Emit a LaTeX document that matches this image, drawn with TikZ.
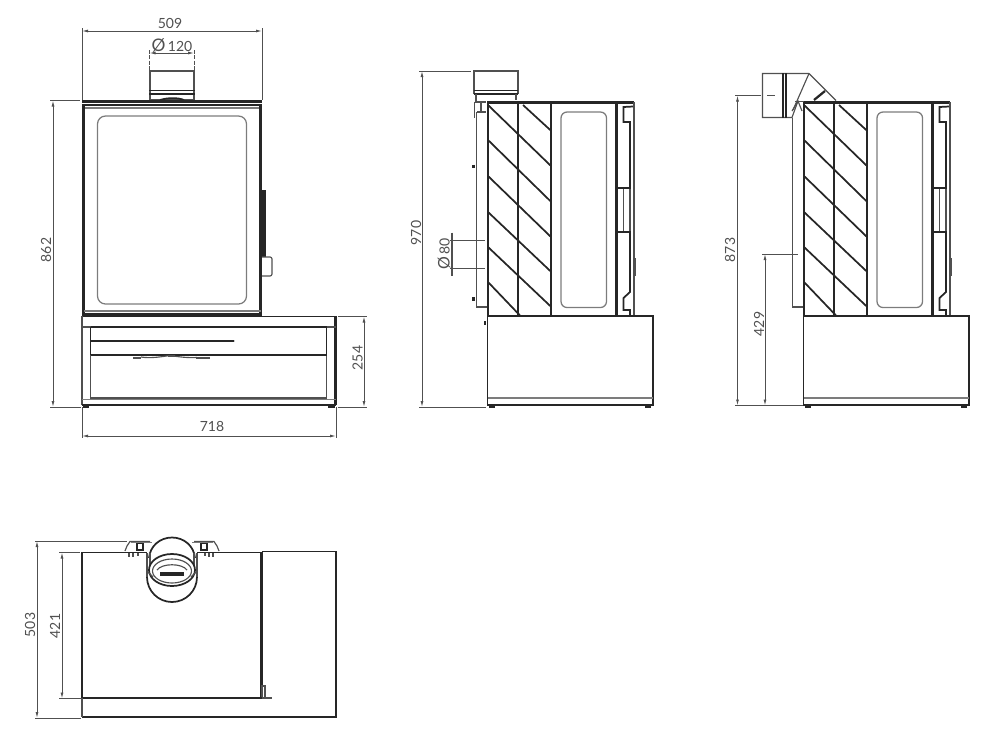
\documentclass[tikz,border=0pt]{standalone}
\usepackage{fontspec}
\setmainfont{Lato}
\usetikzlibrary{arrows.meta}
\definecolor{ink}{HTML}{262626}
\definecolor{soft}{HTML}{505050}
\definecolor{pale}{HTML}{7C7C7C}
\tikzset{
  thk/.style={draw=ink,line width=1.9pt},
  med/.style={draw=ink,line width=1.3pt},
  thn/.style={draw=soft,line width=0.85pt},
  hair/.style={draw=pale,line width=0.8pt},
  ext/.style={draw=soft,line width=0.6pt},
  dimline/.style={draw=soft,line width=0.65pt,{Latex[length=4.5pt,width=2.2pt]}-{Latex[length=4.5pt,width=2.2pt]}},
  lab/.style={text=soft,font=\fontsize{10.5pt}{12pt}\selectfont,inner sep=0pt},
  sidebody/.pic={
    % top plate and walls
    \draw[thk] (487,102.5) -- (634,102.5);
    \draw[thk] (488,101) -- (488,316);
    \draw[med] (518,104) -- (518,316);
    \draw[thk] (551,104) -- (551,316);
    \draw[thk] (616.5,104) -- (616.5,316);
    \draw[thn] (634,102) -- (634,316);
    % hatching
    \foreach \ya/\yb in {105/166,140/201.7,176/237,212/271.7,247/306.7}
      \draw[med] (488,\ya) -- (551,\yb);
    \draw[med] (488,282) -- (520,315.5);
    \draw[med] (523,105) -- (551,130.7);
    % window
    \draw[hair,rounded corners=4.5pt,line width=0.95pt] (561,307.5) rectangle (606.5,112);
    % rail
    \draw[med] (633,106.5) -- (623.5,107) -- (623.5,122) -- (630,122) -- (630,188) -- (618,188);
    \draw[thn] (623.5,189) -- (623.5,231);
    \draw[thn] (630,189) -- (630,231);
    \draw[med] (618,232) -- (630,232) -- (630,292) -- (623.5,298) -- (623.5,310) -- (630,310) -- (630,316);
    \draw[thn] (635,258) -- (635,276);
    % base
    \draw[med] (487.5,316) rectangle (653,405);
    \draw[hair,line width=1pt] (488,398) -- (653,398);
    \draw[thk] (487.5,405) -- (653,405);
    \draw[line width=1.6pt,draw=ink] (489,407) -- (495,407) (645,407) -- (651,407);
  }
}
\begin{document}
\begin{tikzpicture}[x=0.75pt,y=-0.75pt]
\useasboundingbox (0,0) rectangle (1000,747);

% ===== FRONT VIEW =====
\draw[thn] (150,71) rectangle (194,100);
\draw[med] (149,90.5) -- (195,90.5) (149,94) -- (195,94);
\draw[med] (160,100) .. controls (168,97.5) and (178,97.5) .. (184,100);
\draw[thk] (82,101.5) -- (262,101.5);
\draw[thk] (82,105) -- (262,105);
\draw[hair] (84,108) -- (260,108);
\draw[thk] (83.5,106) -- (83.5,316);
\draw[thk] (260.5,106) -- (260.5,316);
\draw[hair,rounded corners=6pt,line width=0.95pt] (97.5,304) rectangle (246.5,116);
\draw[line width=3pt,draw=ink] (263.5,190) -- (263.5,257);
\draw[thn,rounded corners=1.5pt] (262,257) -- (272,257) -- (272,276) -- (262,276);
\draw[hair,line width=1pt] (84,311) -- (261,311);
\draw[line width=3pt,draw=ink] (82,315) -- (262,315);
\draw[med] (262,316.5) -- (336,316.5);
\draw[thn] (82,316) -- (82,405);
\draw[thk] (335.5,316) -- (335.5,405);
\draw[thn] (82,327) -- (336,327);
\draw[med] (90.5,327) -- (327,327);
\draw[med] (90.5,327) -- (90.5,355);
\draw[med] (326.5,327) -- (326.5,355);
\draw[thn] (90.5,355) -- (90.5,398);
\draw[thn] (326.5,355) -- (326.5,398);
\draw[med] (90.5,355) -- (327,355);
\draw[line width=1.6pt,draw=ink,line cap=round] (91,341) -- (233.5,341);
\draw[thn] (90,398) -- (327,398);
\draw[hair] (82,399.5) -- (336,399.5);
\draw[thk] (82,405) -- (336,405);
\draw[line width=1.6pt,draw=ink] (83,406.5) -- (89,406.5) (328,406.5) -- (335,406.5);
% bracket under the drawer
\draw[line width=1.5pt,draw=soft] (133,357.5) -- (141,357.5) (168,356) -- (175,356) (196,357.5) -- (210,357.5);
\draw[thn] (141,357) .. controls (150,358.5) and (160,357) .. (170,355.5) .. controls (180,357) and (188,358) .. (197,357.5);

% front dimensions
\draw[ext] (82,28) -- (82,100);
\draw[ext] (262,28) -- (262,100);
\draw[dimline] (82,31) -- (262,31);
\node[lab] (t509) at (170,23) {509};
\draw[ext,dash pattern=on 3pt off 1pt] (149.5,50) -- (149.5,71);
\draw[ext,dash pattern=on 3pt off 1pt] (194,50) -- (194,71);
\draw[dimline] (149.5,53) -- (194,53);
\node[lab] (t120) at (172,45) {{\fontsize{13pt}{13pt}\selectfont Ø}\,120};
\draw[ext] (50,100.5) -- (80,100.5);
\draw[ext] (50,407) -- (81,407);
\draw[dimline] (53,100.5) -- (53,407);
\node[lab,rotate=90] (t862) at (46,250) {862};
\draw[ext] (338,316.5) -- (367,316.5);
\draw[ext] (338,407) -- (367,407);
\draw[dimline] (364,316.5) -- (364,407);
\node[lab,rotate=90] (t254) at (357.5,358) {254};
\draw[ext] (82,407) -- (82,438);
\draw[ext] (336,407) -- (336,438);
\draw[dimline] (82,436) -- (336,436);
\node[lab] (t718) at (212,426) {718};

% ===== SIDE VIEW 1 =====
\pic at (0,0) {sidebody};
\draw[thn] (474,94) -- (474,71) -- (518,71) -- (518,94);
\draw[med] (473.5,90.5) -- (518,90.5) (473.5,94) -- (518,94);
\draw[thn] (476,94) -- (476,101) (516,94) -- (516,100);
\draw[thn] (474.5,102) -- (486,102) (474.5,102) -- (474.5,118);
\draw[thn] (477,112) -- (486,112) (476.5,112) -- (476.5,307) -- (487,307);
\draw[thn] (481,102) -- (481,112);
\draw[line width=2.4pt,draw=ink] (473.5,164.5) -- (473.5,168);
\draw[line width=2.4pt,draw=ink] (473.5,297) -- (473.5,300.5);
\draw[line width=1.4pt,draw=ink] (485,321) -- (485,325);
\draw[ext] (419,71) -- (471,71);
\draw[ext] (419,407) -- (486,407);
\draw[dimline] (422,71) -- (422,407);
\node[lab,rotate=90] (t970) at (416,233) {970};
\draw[ext] (450,240) -- (485,240);
\draw[ext] (450,268) -- (485,268);
\draw[line width=0.9pt,draw=soft] (452,232.5) -- (452,275.5);
\node[lab,rotate=90] (t80) at (444,254) {{\fontsize{12pt}{12pt}\selectfont Ø}\,80};

% ===== SIDE VIEW 2 =====
\pic at (316,0) {sidebody};
\draw[thn] (792.5,118) -- (792.5,307) -- (803,307);
% elbow
\draw[thn] (809,73.5) -- (762.5,73.5) -- (762.5,117.5) -- (792,117.5) -- (798,101);
\draw[line width=1.5pt,draw=ink] (782.5,73) -- (782.5,118) (785.8,73) -- (785.8,118);
\draw[thn] (809,73.5) -- (836,100.5);
\draw[thn] (809,73.5) -- (793,110);
\draw[line width=1.7pt,draw=ink] (814,100) -- (825,91);
\draw[thn] (792,111) -- (798,101) -- (802,111);
\draw[thn] (795,101.5) -- (804,101.5);
\draw[ext] (735,95.5) -- (761,95.5);
\draw[ext,dash pattern=on 6pt off 2pt on 1.5pt off 2pt] (767,95.5) -- (777,95.5);
\draw[ext] (735,405.5) -- (803,405.5);
\draw[dimline] (737.5,95.5) -- (737.5,405.5);
\node[lab,rotate=90] (t873) at (730,250) {873};
\draw[ext] (762,254) -- (798,254);
\draw[dimline] (765,254) -- (765,405.5);
\node[lab,rotate=90] (t429) at (759,324) {429};

% ===== TOP VIEW =====
\draw[med] (82,698) -- (82,552.5) -- (147,552.5);
\draw[med] (197,552.5) -- (261.5,552.5);
\draw[thk] (261.5,552) -- (261.5,698);
\draw[thk] (82,698) -- (262,698);
\draw[thn] (262,698) -- (272,698);
\draw[med] (262,551.5) -- (336,551.5) -- (336,717) -- (82,717);
\draw[thn] (82,698) -- (82,717);
\draw[thn] (262,697) -- (262,686) -- (265,686) -- (265,697);
% plate above the wall
\draw[thn] (125,551) -- (127,546) -- (130,541.5) -- (150,541.5);
\draw[thn] (194,541.5) -- (214,541.5) -- (217,546) -- (219,551);
\draw[hair,line width=1.2pt] (131,542.5) -- (152,542.5) (192,542.5) -- (213,542.5);
\draw[med] (137,543.5) rectangle (143,550);
\draw[med] (201,543.5) rectangle (207,550);
\draw[thn] (129,553) -- (129,557) (133,553) -- (133,557) (138,553) -- (138,556);
\draw[thn] (205,553) -- (205,556) (209,553) -- (209,557) (213,553) -- (213,557);
% flue
\draw[med,fill=white] (149,558) .. controls (150,546) and (160,537.5) .. (172,537.5) .. controls (184,537.5) and (194,546) .. (195,558);
\draw[thn] (147,553) -- (147,577) (150,553) -- (150,570);
\draw[thn] (197,553) -- (197,577) (194,553) -- (194,570);
\draw[med] (147,577) arc[start angle=180,end angle=0,x radius=25,y radius=25];
\draw[med,fill=white] (172,570) ellipse[x radius=23,y radius=16];
\draw[thn] (172,571) ellipse[x radius=19.5,y radius=12];
\draw[thn] (157,570) .. controls (162,563) and (182,563) .. (187,570);
\draw[line width=2.4pt,draw=ink] (160,574) -- (184,574);
\draw[thn] (153,577) -- (147,571);
\draw[thn] (191,577) -- (197,571);
% top dimensions
\draw[ext] (35,541) -- (127,541);
\draw[ext] (35,718) -- (81,718);
\draw[dimline] (37,541) -- (37,718);
\node[lab,rotate=90] (t503) at (30,625) {503};
\draw[ext] (59,552.5) -- (80,552.5);
\draw[ext] (59,698.5) -- (81,698.5);
\draw[dimline] (62,552.5) -- (62,698.5);
\node[lab,rotate=90] (t421) at (55,626) {421};
\end{tikzpicture}
\end{document}
